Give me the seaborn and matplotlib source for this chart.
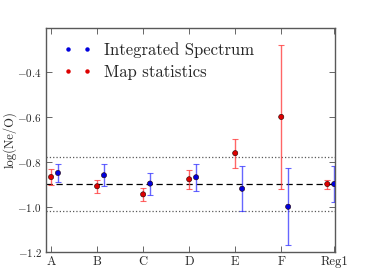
import numpy as np
import pandas as pd
import matplotlib
matplotlib.use('Agg')
import matplotlib.pyplot as plt
from matplotlib.lines import Line2D
import seaborn as sns

# Data
regions = ['A', 'B', 'C', 'D', 'E', 'F', 'Reg1']
map_vals = [-0.867, -0.908, -0.944, -0.877, -0.761, -0.600, -0.898]
map_err_lo = [0.035, 0.030, 0.030, 0.042, 0.066, 0.320, 0.020]
map_err_hi = [0.035, 0.028, 0.028, 0.041, 0.063, 0.320, 0.018]
int_vals = [-0.849, -0.859, -0.896, -0.868, -0.919, -0.999, -0.898]
int_err_lo = [0.040, 0.050, 0.052, 0.060, 0.100, 0.170, 0.080]
int_err_hi = [0.040, 0.050, 0.047, 0.059, 0.100, 0.170, 0.080]
mean_ne_o = -0.90
spread = 0.12

sns.set_theme(style='ticks')
plt.rcParams['font.family'] = ['cmr10', 'DejaVu Serif']
plt.rcParams['mathtext.fontset'] = 'cm'
plt.rcParams['axes.formatter.use_mathtext'] = True

x = np.arange(1, len(regions) + 1, dtype=float)
offset = 0.15
colors = {'Integrated Spectrum': '#0000dd', 'Map statistics': '#dd0000'}

df = pd.DataFrame({
    'x': np.concatenate([x + offset, x]),
    'val': int_vals + map_vals,
    'kind': ['Integrated Spectrum'] * len(x) + ['Map statistics'] * len(x),
})

fig = plt.figure(figsize=(3.74, 2.8), dpi=100)
ax = fig.add_axes([0.123, 0.1, 0.773, 0.8])

ax.axhline(mean_ne_o, color='black', ls='--', lw=0.9, dashes=(5, 3), zorder=1)
ax.axhline(mean_ne_o + spread, color='0.35', ls=':', lw=0.9, zorder=1)
ax.axhline(mean_ne_o - spread, color='0.35', ls=':', lw=0.9, zorder=1)

ax.errorbar(x, map_vals, yerr=[map_err_lo, map_err_hi], fmt='none',
            ecolor='#ff3333', alpha=0.75, elinewidth=1.0, capsize=2.5, capthick=0.8)
ax.errorbar(x + offset, int_vals, yerr=[int_err_lo, int_err_hi], fmt='none',
            ecolor='#3333ff', alpha=0.75, elinewidth=1.0, capsize=2.5, capthick=0.8)

sns.scatterplot(data=df, x='x', y='val', hue='kind', palette=colors,
                s=14, edgecolor='#220000', linewidth=0.4, zorder=3, ax=ax,
                legend=False)

# legend with two markers per entry
handles = [Line2D([], [], ls='', marker='o', markersize=3.2, color=c,
                  markeredgewidth=0) for c in colors.values()]
ax.legend(handles, list(colors.keys()), loc='upper left', frameon=False,
          numpoints=2, fontsize=12, handlelength=1.7, handletextpad=0.75,
          borderaxespad=0.3, labelspacing=0.4, bbox_to_anchor=(0.02, 0.99))

ax.set_xlim(0.89, 7.17)
ax.set_ylim(-1.2, -0.205)
ax.set_xticks(list(x[:-1]) + [7.15])
ax.set_xticklabels(regions, fontsize=9)
ax.set_yticks([-1.2, -1.0, -0.8, -0.6, -0.4])
ax.set_yticklabels(['$-1.2$', '$-1.0$', '$-0.8$', '$-0.6$', '$-0.4$'], fontsize=8)
ax.tick_params(direction='in', length=4, width=0.6, top=True, right=True,
               color='0.3', pad=3)
ax.set_xlabel('')
ax.set_ylabel('log(Ne/O)', fontsize=9)
ax.yaxis.set_label_coords(-0.10, 0.5)
for s in ax.spines.values():
    s.set_color('0.35')
    s.set_linewidth(1.0)

fig.savefig('out.png', dpi=100)
